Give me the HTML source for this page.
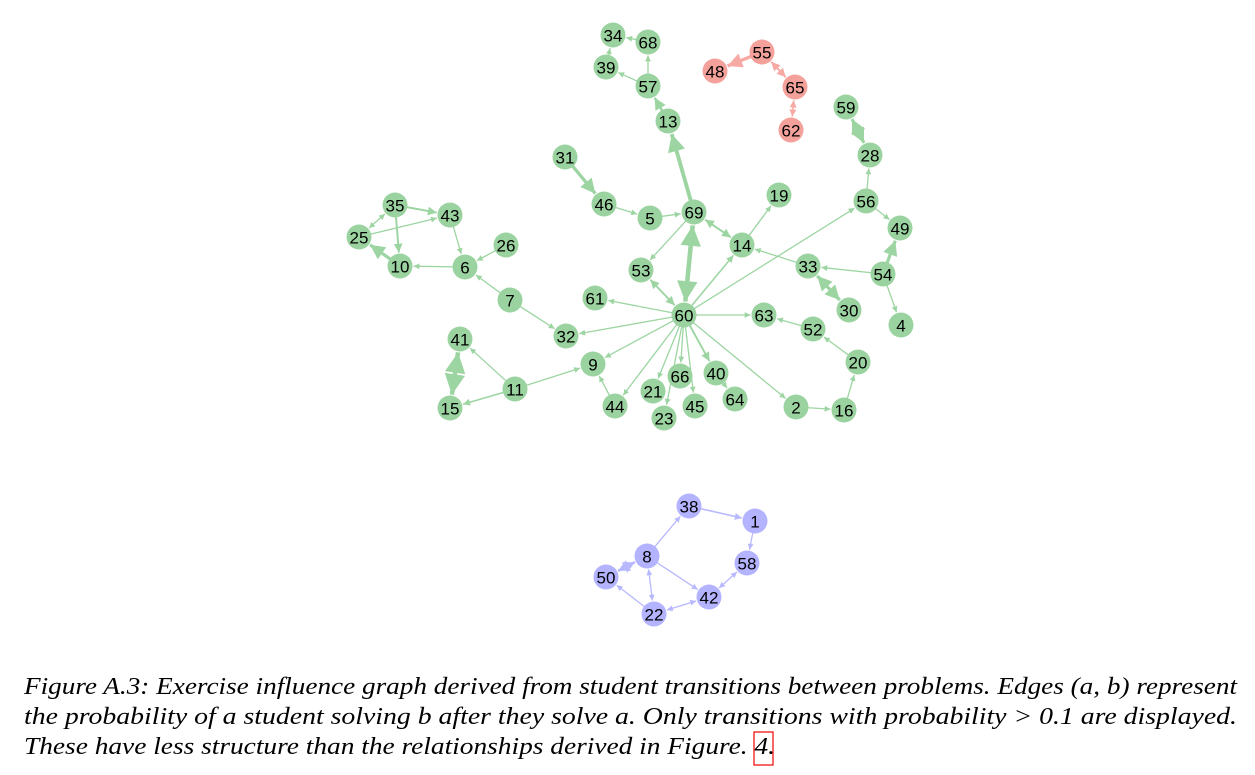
<!DOCTYPE html>
<html><head><meta charset="utf-8"><style>
body{margin:0;background:#fff;width:1255px;height:775px;overflow:hidden}
svg{display:block}
.nt{font-family:"Liberation Sans",sans-serif;font-size:17px;text-anchor:middle;dominant-baseline:central;fill:#000}
.cap{font-family:"Liberation Serif",serif;font-style:italic;font-size:24px;fill:#000}
</style></head><body>
<svg id="g" width="1255" height="775">
<defs>
<marker id="ag" viewBox="0 0 10 10" refX="10" refY="5" markerWidth="5" markerHeight="4.5" orient="auto-start-reverse" markerUnits="strokeWidth"><path d="M0,0L10,5L0,10z" fill="#9dd5a2"/></marker>
<marker id="ab" viewBox="0 0 10 10" refX="10" refY="5" markerWidth="5" markerHeight="4.5" orient="auto-start-reverse" markerUnits="strokeWidth"><path d="M0,0L10,5L0,10z" fill="#b8b8ff"/></marker>
<marker id="ar" viewBox="0 0 10 10" refX="10" refY="5" markerWidth="5" markerHeight="4.5" orient="auto-start-reverse" markerUnits="strokeWidth"><path d="M0,0L10,5L0,10z" fill="#f7a9a3"/></marker>
</defs>
<g id="edges"></g>
<g id="nodes"></g>
<g>
<text class="cap" x="24" y="694" textLength="1213" lengthAdjust="spacingAndGlyphs">Figure A.3: Exercise influence graph derived from student transitions between problems. Edges (a, b) represent</text>
<text class="cap" x="24" y="724" textLength="1213" lengthAdjust="spacingAndGlyphs">the probability of a student solving b after they solve a. Only transitions with probability &gt; 0.1 are displayed.</text>
<text class="cap" x="24" y="754" textLength="751" lengthAdjust="spacingAndGlyphs">These have less structure than the relationships derived in Figure. 4.</text>
<rect x="754" y="732" width="19" height="33" fill="none" stroke="#e00" stroke-width="1.2"/>
</g>
</svg>
<script>
const nodeIds=['34','68','39','57','13','55','48','65','62','59','28','31','46','5','69','19','56','49','35','43','25','26','10','6','14','33','54','53','7','61','60','63','30','4','52','32','41','9','20','11','21','66','40','64','15','44','45','23','2','16','38','1','8','58','50','42','22'];
const nodeX=[613,648,606,648,668,762,715,795,791,846,870,565,604,650,694,779,866,900,395,450,359,506,400,465,742,808,883,641,510,595,684,764,849,901,813,566,460,593,858,515,653,680,716,735,450,615,695,664,796,844,689,755,647,747,606,709,654];
const nodeY=[35,42,67,86,121,52,71,87,130,107,155,157,204,218,212,195,201,228,205,215,237,245,266,267,245,266,274,270,300,298,315,315,310,325,329,336,339,364,362,389,391,376,373,399,408,406,406,418,407,410,506,521,556,563,577,597,614];
const nodeGroup=['g','g','g','g','g','r','r','r','r','g','g','g','g','g','g','g','g','g','g','g','g','g','g','g','g','g','g','g','g','g','g','g','g','g','g','g','g','g','g','g','g','g','g','g','g','g','g','g','g','g','b','b','b','b','b','b','b'];
// edges: source, target, weight, bidirectional
const edgeFrom=['68','39','57','57','13','69','55','65','65','59','56','31','46','5','69','14','60','56','54','54','33','54','30','69','53','69','60','60','60','52','20','16','2','60','60','7','7','26','43','6','35','25','35','35','10','60','11','44','60','60','60','60','60','60','40','11','11','41','8','38','1','58','8','22','8','22','50'];
const edgeTo=['34','34','68','39','57','13','48','55','62','28','28','46','5','69','14','19','56','49','49','4','14','33','33','53','60','60','14','61','63','63','52','20','16','2','32','32','6','6','6','10','43','43','25','10','25','9','9','9','44','21','23','66','45','40','64','41','15','15','38','1','58','42','42','42','22','50','8'];
const edgeW=[1,1,1,1,2,3,2.5,1.5,1.2,2.5,1,2.5,1,1,1.5,1,1,1,2.5,1,1,1,2.5,1,1.5,3.5,1.2,1,1,1,1,1,1,1,1,1,1,1,1,1,1.5,1,1,1.5,2.5,1,1,1,1,1,1,1,1,1.5,1,1,1.2,3.5,1,1.2,1,1,1,1,1,1,2];
const edgeBi=[0,0,0,0,0,0,0,1,1,1,0,0,0,0,1,0,0,0,0,0,0,0,1,0,1,1,0,0,0,0,0,0,0,0,0,0,0,0,0,0,0,0,1,0,0,0,0,0,0,0,0,0,0,0,0,0,0,1,0,0,0,1,0,1,1,0,1];

const NS='http://www.w3.org/2000/svg';
const R=12.5;
const fill={g:'#9bd3a0',b:'#b3b3ff',r:'#f5a19b'};
const ecol={g:'#9dd5a2',b:'#b8b8ff',r:'#f7a9a3'};
const mk={g:'ag',b:'ab',r:'ar'};
const idx={};nodeIds.forEach((id,i)=>idx[id]=i);
const eg=document.getElementById('edges'),ng=document.getElementById('nodes');
edgeFrom.forEach((f,i)=>{
  const a=idx[f],b=idx[edgeTo[i]];
  const x1=nodeX[a],y1=nodeY[a],x2=nodeX[b],y2=nodeY[b];
  const d=Math.hypot(x2-x1,y2-y1),ux=(x2-x1)/d,uy=(y2-y1)/d;
  const s=edgeBi[i]?R+1:R-2,t=R+1;
  const l=document.createElementNS(NS,'line');
  l.setAttribute('x1',x1+ux*s);l.setAttribute('y1',y1+uy*s);
  l.setAttribute('x2',x2-ux*t);l.setAttribute('y2',y2-uy*t);
  const grp=nodeGroup[a];
  l.setAttribute('stroke',ecol[grp]);l.setAttribute('stroke-width',edgeW[i]*1.3);
  l.setAttribute('marker-end','url(#'+mk[grp]+')');
  if(edgeBi[i])l.setAttribute('marker-start','url(#'+mk[grp]+')');
  
  
  eg.appendChild(l);
});
nodeIds.forEach((id,i)=>{
  const g=document.createElementNS(NS,'g');
  
  
  const c=document.createElementNS(NS,'circle');
  c.setAttribute('cx',nodeX[i]);c.setAttribute('cy',nodeY[i]);c.setAttribute('r',R);
  c.setAttribute('fill',fill[nodeGroup[i]]);
  const t=document.createElementNS(NS,'text');
  t.setAttribute('class','nt');t.setAttribute('x',nodeX[i]);t.setAttribute('y',nodeY[i]+1);
  t.textContent=id;
  g.appendChild(c);g.appendChild(t);ng.appendChild(g);
});
</script>
</body></html>
